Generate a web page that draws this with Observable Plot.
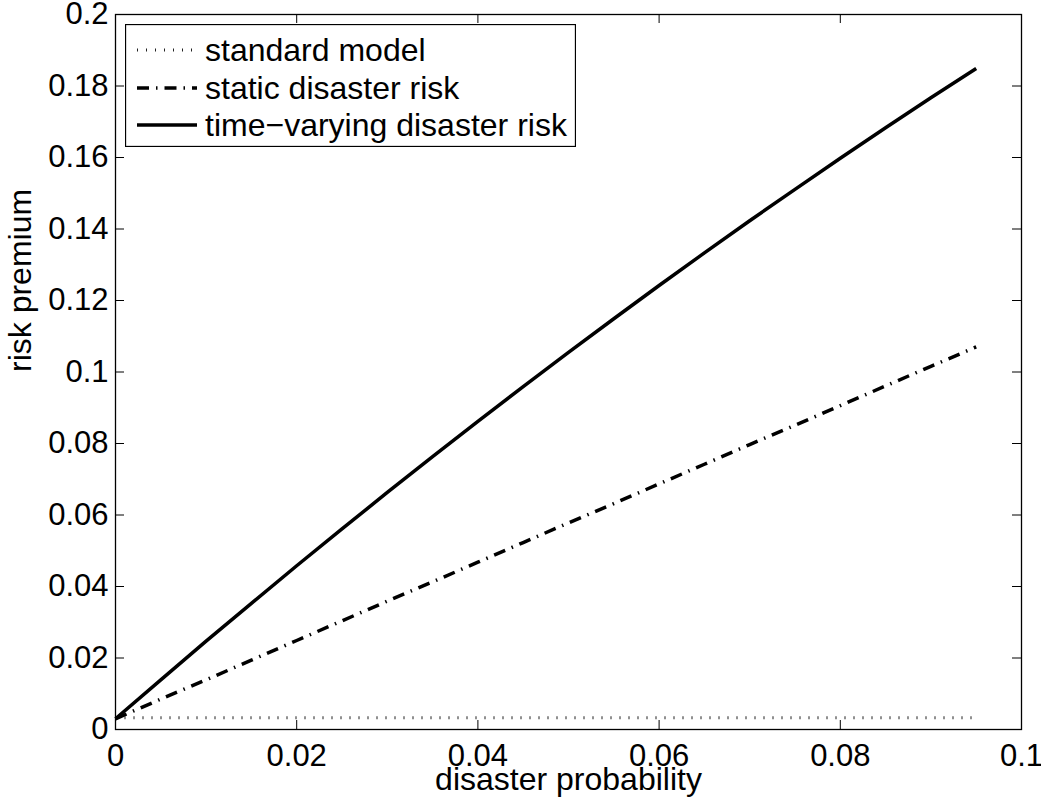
<!DOCTYPE html>
<html>
<head>
<meta charset="utf-8">
<script src="https://cdn.jsdelivr.net/npm/d3@7"></script>
<script src="https://cdn.jsdelivr.net/npm/@observablehq/plot@0.6"></script>
<style>
  html, body { margin: 0; padding: 0; background: #fff; }
  #wrap { position: relative; width: 1041px; height: 806px; overflow: hidden; font-family: "Liberation Sans", Helvetica, Arial, sans-serif; }
  #legend { position: absolute; left: 125px; top: 24px; }
</style>
</head>
<body>
<div id="wrap"></div>
<script>
// ---- data ----
const xVals = [0, 0.005, 0.01, 0.015, 0.02, 0.025, 0.03, 0.035, 0.04, 0.045, 0.05, 0.055, 0.06, 0.065, 0.07, 0.075, 0.08, 0.085, 0.09, 0.095];
const standardModel = [0.0033, 0.0033, 0.0033, 0.0033, 0.0033, 0.0033, 0.0033, 0.0033, 0.0033, 0.0033, 0.0033, 0.0033, 0.0033, 0.0033, 0.0033, 0.0033, 0.0033, 0.0033, 0.0033, 0.0033];
const staticRisk = [0.003, 0.0085, 0.0139, 0.0194, 0.0249, 0.0304, 0.0359, 0.0413, 0.0468, 0.0523, 0.0578, 0.0632, 0.0687, 0.0742, 0.0797, 0.0851, 0.0906, 0.0961, 0.1016, 0.107];
const timeVarying = [0.003, 0.0139, 0.0247, 0.0353, 0.0458, 0.0561, 0.0663, 0.0763, 0.0862, 0.0959, 0.1055, 0.1149, 0.1242, 0.1333, 0.1423, 0.1511, 0.1598, 0.1683, 0.1767, 0.1849];
const seriesNames = ["standard model", "static disaster risk", "time\u2212varying disaster risk"];
const xTicks = [0, 0.02, 0.04, 0.06, 0.08, 0.1];
const yTicks = [0, 0.02, 0.04, 0.06, 0.08, 0.1, 0.12, 0.14, 0.16, 0.18, 0.2];
const xLabel = "disaster probability";
const yLabel = "risk premium";

// ---- layout ----
const W = 1041, H = 806;
const mL = 115, mR = 20, mT = 14, mB = 77;
const plotW = W - mL - mR, plotH = H - mT - mB;
const tickLen = 9;
const FS = 32;
const TFS = 31;
const FONT = '"Liberation Sans", Helvetica, Arial, sans-serif';
const fmt = d => String(+d.toFixed(2));

const rows = (ys) => xVals.map((x, i) => ({x, y: ys[i]}));
const styles = [
  {stroke: "#222", strokeWidth: 3, strokeDasharray: "1,8", strokeLinecap: "butt"},
  {stroke: "#000", strokeWidth: 3.5, strokeDasharray: "12,7,1.5,7", strokeLinecap: "butt"},
  {stroke: "#000", strokeWidth: 3.5, strokeLinecap: "butt"}
];

const chart = Plot.plot({
  width: W, height: H,
  marginLeft: mL, marginRight: mR, marginTop: mT, marginBottom: mB,
  style: {fontFamily: FONT, color: "#000", background: "#fff", overflow: "visible"},
  x: {domain: [0, 0.1], axis: null},
  y: {domain: [0, 0.2], axis: null},
  marks: [
    Plot.axisX(xTicks, {tickSize: 0, tickPadding: 14, fontSize: TFS, tickFormat: fmt, label: null}),
    Plot.axisY(yTicks, {tickSize: 0, tickPadding: 7, fontSize: TFS, tickFormat: fmt, label: null}),
    Plot.tickX(xTicks, {x: d => d, insetTop: plotH - tickLen, stroke: "#000", strokeWidth: 1}),
    Plot.tickX(xTicks, {x: d => d, insetBottom: plotH - tickLen, stroke: "#000", strokeWidth: 1}),
    Plot.tickY(yTicks, {y: d => d, insetRight: plotW - tickLen, stroke: "#000", strokeWidth: 1}),
    Plot.tickY(yTicks, {y: d => d, insetLeft: plotW - tickLen, stroke: "#000", strokeWidth: 1}),
    Plot.line(rows(standardModel), {x: "x", y: "y", ...styles[0]}),
    Plot.line(rows(staticRisk), {x: "x", y: "y", ...styles[1]}),
    Plot.line(rows(timeVarying), {x: "x", y: "y", ...styles[2]}),
    Plot.frame({stroke: "#000", strokeWidth: 1.3}),
    Plot.text([xLabel], {text: d => d, frameAnchor: "bottom", dy: 60, fontSize: FS, fill: "#000"}),
    Plot.text([yLabel], {text: d => d, frameAnchor: "left", dx: -95, rotate: -90, fontSize: FS, fill: "#000"})
  ]
});

const wrap = document.getElementById("wrap");
wrap.appendChild(chart);

// ---- legend (overlay inside the axes box) ----
const lgW = 451, lgH = 123;
const ns = "http://www.w3.org/2000/svg";
const lg = document.createElementNS(ns, "svg");
lg.setAttribute("id", "legend");
lg.setAttribute("width", lgW);
lg.setAttribute("height", lgH);
const bg = document.createElementNS(ns, "rect");
bg.setAttribute("x", 0.5); bg.setAttribute("y", 0.5);
bg.setAttribute("width", lgW - 1); bg.setAttribute("height", lgH - 1);
bg.setAttribute("fill", "#fff"); bg.setAttribute("stroke", "#000"); bg.setAttribute("stroke-width", 1.3);
lg.appendChild(bg);
const rowY = [26, 64, 101];
seriesNames.forEach((name, i) => {
  const s = styles[i];
  const ln = document.createElementNS(ns, "line");
  ln.setAttribute("x1", 12); ln.setAttribute("x2", 72);
  ln.setAttribute("y1", rowY[i]); ln.setAttribute("y2", rowY[i]);
  ln.setAttribute("stroke", s.stroke);
  ln.setAttribute("stroke-width", s.strokeWidth);
  if (s.strokeDasharray) ln.setAttribute("stroke-dasharray", s.strokeDasharray);
  lg.appendChild(ln);
  const t = document.createElementNS(ns, "text");
  t.setAttribute("x", 80); t.setAttribute("y", rowY[i]);
  t.setAttribute("dominant-baseline", "central");
  t.setAttribute("font-size", FS);
  t.setAttribute("font-family", FONT);
  t.setAttribute("fill", "#000");
  t.textContent = name;
  lg.appendChild(t);
});
wrap.appendChild(lg);
</script>
</body>
</html>
